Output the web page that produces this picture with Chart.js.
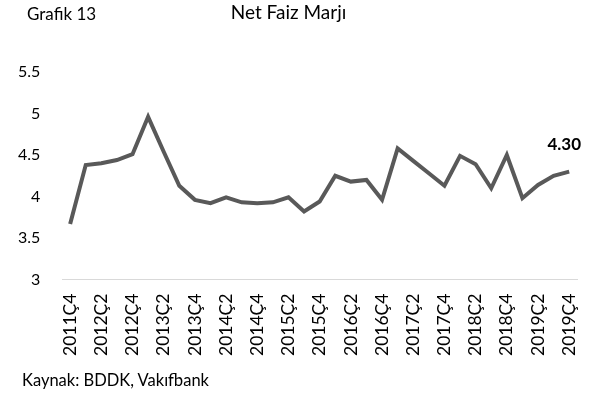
<!DOCTYPE html>
<html>
<head>
<meta charset="utf-8">
<script src="https://cdn.jsdelivr.net/npm/chart.js@4"></script>
<style>
  body { margin: 0; background: #fff; font-family: Lato, sans-serif; }
  #wrap { position: relative; width: 598px; height: 400px; }
  .txt { position: absolute; color: #000; white-space: nowrap; }
  #grafik { left: 27px; top: 3px; font-size: 17px; }
  #title { left: 0; width: 577px; text-align: center; top: 0px; font-size: 19px; }
  #source { left: 22px; top: 370px; font-size: 16.5px; }
</style>
</head>
<body>
<div id="wrap">
  <canvas id="c" width="598" height="400"></canvas>
  <div class="txt" id="grafik">Grafik 13</div>
  <div class="txt" id="title">Net Faiz Marjı</div>
  <div class="txt" id="source">Kaynak: BDDK, Vakıfbank</div>
</div>
<script>
// Quarters 2011Q4 .. 2019Q4
const quarters = [
  '2011Ç4', '2012Ç1', '2012Ç2', '2012Ç3', '2012Ç4', '2013Ç1', '2013Ç2', '2013Ç3',
  '2013Ç4', '2014Ç1', '2014Ç2', '2014Ç3', '2014Ç4', '2015Ç1', '2015Ç2', '2015Ç3',
  '2015Ç4', '2016Ç1', '2016Ç2', '2016Ç3', '2016Ç4', '2017Ç1', '2017Ç2', '2017Ç3',
  '2017Ç4', '2018Ç1', '2018Ç2', '2018Ç3', '2018Ç4', '2019Ç1', '2019Ç2', '2019Ç3',
  '2019Ç4'
];
const margin = [
  3.67, 4.38, 4.40, 4.44, 4.51, 4.96, 4.54, 4.13,
  3.96, 3.92, 3.99, 3.93, 3.92, 3.93, 3.99, 3.82,
  3.94, 4.25, 4.18, 4.20, 3.96, 4.58, 4.43, 4.28,
  4.13, 4.49, 4.39, 4.10, 4.50, 3.98, 4.14, 4.25,
  4.30
];
const yMin = 3, yMax = 5.5, yStep = 0.5;

// label on the last point
const lastLabel = {
  id: 'lastLabel',
  afterDatasetsDraw(chart) {
    const meta = chart.getDatasetMeta(0);
    const pt = meta.data[meta.data.length - 1];
    const ctx = chart.ctx;
    ctx.save();
    ctx.font = 'bold 17px Lato';
    ctx.fillStyle = '#000';
    ctx.textAlign = 'center';
    ctx.textBaseline = 'middle';
    ctx.fillText(margin[margin.length - 1].toFixed(2), pt.x - 5, pt.y - 27);
    ctx.restore();
  }
};

new Chart(document.getElementById('c'), {
  type: 'line',
  data: {
    labels: quarters,
    datasets: [{
      data: margin,
      borderColor: '#595959',
      borderWidth: 4,
      pointRadius: 0,
      tension: 0,
      fill: false
    }]
  },
  options: {
    responsive: false,
    animation: false,
    layout: { padding: { top: 72, left: 4, right: 21, bottom: 38 } },
    plugins: { legend: { display: false }, tooltip: { enabled: false } },
    scales: {
      x: {
        offset: true,
        grid: { display: false },
        border: { color: '#d9d9d9', width: 1 },
        ticks: {
          autoSkip: false,
          maxRotation: 90,
          minRotation: 90,
          padding: 6,
          color: '#000',
          font: { family: 'Lato', size: 17.5 },
          callback: (v, i) => (i % 2 === 0 ? quarters[i] : '')
        }
      },
      y: {
        min: yMin,
        max: yMax,
        grid: { display: false },
        border: { display: false },
        ticks: {
          stepSize: yStep,
          padding: 14,
          color: '#000',
          font: { family: 'Lato', size: 16 },
          callback: v => String(v)
        }
      }
    }
  },
  plugins: [lastLabel]
});
</script>
</body>
</html>
